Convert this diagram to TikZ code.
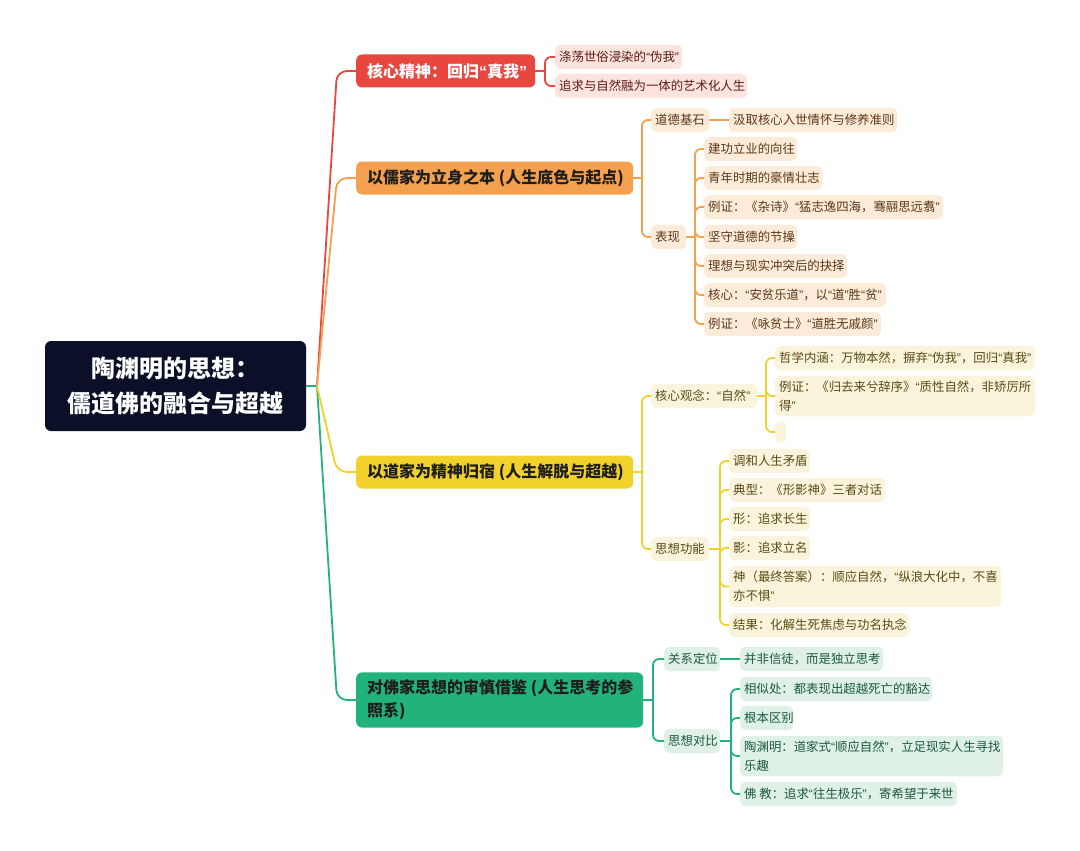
\documentclass[tikz,border=0pt]{standalone}
\usepackage{fontspec}
\setmainfont{Noto Sans CJK SC}
\newfontfamily\latq{Liberation Sans}
\newcommand\qq[1]{{\latq“}#1{\latq”}}
\newcommand\lbx[2]{\makebox[#1pt][l]{#2}}
\definecolor{rootc}{HTML}{0B1028}
\definecolor{redc}{HTML}{E8473F}
\definecolor{redl}{HTML}{FCE4DE}
\definecolor{redt}{HTML}{5E1B14}
\definecolor{orc}{HTML}{F4A04E}
\definecolor{orl}{HTML}{FDEBDA}
\definecolor{ort}{HTML}{5A3818}
\definecolor{ylc}{HTML}{F2D12A}
\definecolor{yll}{HTML}{FBF4DC}
\definecolor{ylt}{HTML}{5A4A14}
\definecolor{grc}{HTML}{22B37A}
\definecolor{grl}{HTML}{DFF1E6}
\definecolor{grt}{HTML}{1A5A3C}
\definecolor{maint}{HTML}{1E1E1E}
\begin{document}
\begin{tikzpicture}[x=1pt,y=-1pt,
  rootbox/.style={fill=rootc, rounded corners=6pt, text=white, align=center,
    font=\fontsize{24}{35}\selectfont\bfseries, inner sep=0pt},
  mainbox/.style={rounded corners=6pt, inner xsep=11pt, inner ysep=7.5pt, minimum height=33pt,
    font=\fontsize{16}{23}\selectfont\bfseries, anchor=west, align=left},
  cbox/.style={rounded corners=5pt, inner xsep=4pt, inner ysep=5pt, minimum height=24pt,
    font=\fontsize{12.4}{19}\selectfont, anchor=west, align=left},
  rbox/.style={cbox, fill=redl, text=redt},
  obox/.style={cbox, fill=orl, text=ort},
  ybox/.style={cbox, fill=yll, text=ylt},
  gbox/.style={cbox, fill=grl, text=grt},
  conn/.style={line width=1.8pt, rounded corners=6pt},
  mconn/.style={line width=1.8pt, rounded corners=10pt},
]
\useasboundingbox (0,0) rectangle (1080,851);

% root
\node[rootbox, minimum width=261pt, minimum height=90pt] (root) at (175.5,386) {陶渊明的思想：\\儒道佛的融合与超越};
\coordinate (hub) at (317,386);

% main nodes
\node[mainbox, fill=redc, text=white] (m1) at (356,71) {\lbx{157}{核心精神：回归\qq{真我}}};
\node[mainbox, fill=orc, text=maint] (m2) at (356,178) {\lbx{255}{以儒家为立身之本 (人生底色与起点)}};
\node[mainbox, fill=ylc, text=maint] (m3) at (356,472) {\lbx{255}{以道家为精神归宿 (人生解脱与超越)}};
\node[mainbox, fill=grc, text=maint] (m4) at (356,700) {\lbx{265}{对佛家思想的审慎借鉴 (人生思考的参}\\\lbx{265}{照系)}};

% main connectors
\draw[mconn, grc] (root.east) -- (hub);
\draw[mconn, grc] (hub) -- (337,700) -- (m4.west);
\draw[mconn, ylc] (hub) -- (337,472) -- (m3.west);
\draw[mconn, redc] (hub) -- (337,71) -- (m1.west);
\draw[mconn, orc] (hub) -- (337,178) -- (m2.west);

% red children
\node[rbox] (r1) at (555,57) {\lbx{119}{涤荡世俗浸染的\qq{伪我}}};
\node[rbox] (r2) at (555,86) {\lbx{184}{追求与自然融为一体的艺术化人生}};
\coordinate (bR) at (545,71);
\draw[conn, redc] (m1.east) -- (bR);
\draw[conn, redc] (bR) |- (r1.west);
\draw[conn, redc] (bR) |- (r2.west);

% orange children
\node[obox] (o1) at (651,120) {\lbx{50}{道德基石}};
\node[obox] (o2) at (651,237) {\lbx{27}{表现}};
\node[obox] (o11) at (729,120) {\lbx{160}{汲取核心入世情怀与修养准则}};
\node[obox] (o21) at (704,149) {\lbx{85}{建功立业的向往}};
\node[obox] (o22) at (704,178) {\lbx{110}{青年时期的豪情壮志}};
\node[obox] (o23) at (704,207) {\lbx{231}{例证：《杂诗》\qq{猛志逸四海，骞翮思远翥}}};
\node[obox] (o24) at (704,237) {\lbx{85}{坚守道德的节操}};
\node[obox] (o25) at (704,266) {\lbx{135}{理想与现实冲突后的抉择}};
\node[obox] (o26) at (704,295) {\lbx{174}{核心：\qq{安贫乐道}，以\qq{道}胜\qq{贫}}};
\node[obox] (o27) at (704,324) {\lbx{169}{例证：《咏贫士》\qq{道胜无戚颜}}};
\coordinate (bO) at (642,178);
\draw[conn, orc] (m2.east) -- (bO);
\draw[conn, orc] (bO) |- (o1.west);
\draw[conn, orc] (bO) |- (o2.west);
\draw[conn, orc] (o1.east) -- (o11.west);
\coordinate (bO2) at (695,237);
\draw[conn, orc] (o2.east) -- (bO2);
\foreach \n in {o21,o22,o23,o24,o25,o26,o27} \draw[conn, orc] (bO2) |- (\n.west);

% yellow children
\node[ybox] (y1) at (651,396) {\lbx{98}{核心观念：\qq{自然}}};
\node[ybox] (y2) at (651,549) {\lbx{50}{思想功能}};
\node[ybox] (y11) at (775,358) {\lbx{252}{哲学内涵：万物本然，摒弃\qq{伪我}，回归\qq{真我}}};
\node[ybox] (y12) at (775,396) {\lbx{252}{例证：《归去来兮辞序》{\latq“}质性自然，非矫厉所}\\\lbx{252}{得{\latq”}}};
\node[cbox, fill=yll, minimum width=11pt, minimum height=21pt, inner sep=0pt] (y13) at (775,432) {};
\node[ybox] (y21) at (729,461) {\lbx{73}{调和人生矛盾}};
\node[ybox] (y22) at (729,490) {\lbx{148}{典型：《形影神》三者对话}};
\node[ybox] (y23) at (729,519) {\lbx{73}{形：追求长生}};
\node[ybox] (y24) at (729,548) {\lbx{73}{影：追求立名}};
\node[ybox] (y25) at (729,586.5) {\lbx{264}{神（最终答案）：顺应自然，{\latq“}纵浪大化中，不喜}\\\lbx{264}{亦不惧{\latq”}}};
\node[ybox] (y26) at (729,625) {\lbx{172}{结果：化解生死焦虑与功名执念}};
\coordinate (bY) at (642,472);
\draw[conn, ylc] (m3.east) -- (bY);
\draw[conn, ylc] (bY) |- (y1.west);
\draw[conn, ylc] (bY) |- (y2.west);
\coordinate (bY1) at (766,396);
\draw[conn, ylc] (y1.east) -- (bY1);
\foreach \n in {y11,y12,y13} \draw[conn, ylc] (bY1) |- (\n.west);
\coordinate (bY2) at (720,549);
\draw[conn, ylc] (y2.east) -- (bY2);
\foreach \n in {y21,y22,y23,y24,y25,y26} \draw[conn, ylc] (bY2) |- (\n.west);

% green children
\node[gbox] (g1) at (664,659) {\lbx{48}{关系定位}};
\node[gbox] (g2) at (664,741) {\lbx{48}{思想对比}};
\node[gbox] (g11) at (740,659) {\lbx{135}{并非信徒，而是独立思考}};
\node[gbox] (g21) at (740,689) {\lbx{184}{相似处：都表现出超越死亡的豁达}};
\node[gbox] (g22) at (740,718) {\lbx{45}{根本区别}};
\node[gbox] (g23) at (740,756) {\lbx{255}{陶渊明：道家式\qq{顺应自然}，立足现实人生寻找}\\\lbx{255}{乐趣}};
\node[gbox] (g24) at (740,794) {\lbx{209}{佛 教：追求\qq{往生极乐}，寄希望于来世}};
\coordinate (bG) at (653,700);
\draw[conn, grc] (m4.east) -- (bG);
\draw[conn, grc] (bG) |- (g1.west);
\draw[conn, grc] (bG) |- (g2.west);
\draw[conn, grc] (g1.east) -- (g11.west);
\coordinate (bG2) at (731,741);
\draw[conn, grc] (g2.east) -- (bG2);
\foreach \n in {g21,g22,g23,g24} \draw[conn, grc] (bG2) |- (\n.west);
\end{tikzpicture}
\end{document}
